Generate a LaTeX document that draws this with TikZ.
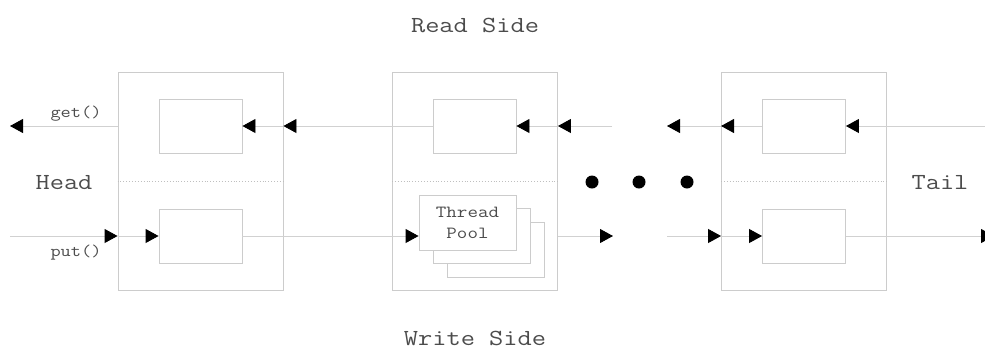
\documentclass[tikz,border=0pt]{standalone}
\usepackage{fontspec}
\newfontfamily\cour{Latin Modern Mono}[FakeStretch=1.2]
\usetikzlibrary{arrows.meta}
\begin{document}
\begin{tikzpicture}[x=1pt,y=-1pt,
  box/.style={draw=black!20, line width=0.9pt, inner sep=0pt, fill=white},
  outer/.style={box, minimum width=165pt, minimum height=218pt},
  inner/.style={box, minimum width=83pt, minimum height=54pt},
  pool/.style={box, minimum width=97pt, minimum height=55pt, align=center, font=\cour\fontsize{17}{21.5}\selectfont, text=black!70},
  wire/.style={draw=black!18, line width=0.9pt},
  flow/.style={wire, -{Triangle[color=black,length=13pt,width=14pt]}},
  big/.style={font=\cour\fontsize{23}{28}\selectfont, text=black!70, inner sep=0pt},
  small/.style={font=\cour\fontsize{16.5}{20}\selectfont, text=black!70, inner sep=0pt},
  dot/.style={circle, fill=black, minimum size=13pt, inner sep=0pt},
  sep/.style={draw=black!25, dotted, line width=0.9pt}
]
\useasboundingbox (0,0) rectangle (985,349);

% modules
\node[outer] (m1) at (200.5,181) {};
\node[inner] (m1t) at (200.5,126) {};
\node[inner] (m1b) at (200.5,236) {};
\node[outer] (m2) at (475,181) {};
\node[inner] (m2t) at (474.5,126) {};
\node[pool] (p3) at (495.5,250) {};
\node[pool] (p2) at (481.5,236) {};
\node[pool] (p1) at (467.5,223) {Thread\\Pool};
\node[outer] (m3) at (804,181) {};
\node[inner] (m3t) at (804,126) {};
\node[inner] (m3b) at (804,236) {};

% separators
\draw[sep] (m1.west) -- (m1.east);
\draw[sep] (m2.west) -- (m2.east);
\draw[sep] (m3.west) -- (m3.east);

% free ends
\coordinate (getend) at (10,126);
\coordinate (putstart) at (10,236);
\coordinate (g1) at (612,126);
\coordinate (g2) at (667,126);
\coordinate (r1) at (613,236);
\coordinate (r2) at (667,236);
\coordinate (rin) at (985,126);
\coordinate (rout) at (994,236);

% read side (right to left)
\draw[flow] (m1t -| m1.west) -- (getend);
\draw[flow] (m1t -| m1.east) -- (m1t.east);
\draw[flow] (m2t.west) -- (m2t -| m1.east);
\draw[flow] (m2t -| m2.east) -- (m2t.east);
\draw[flow] (g1) -- (m2t -| m2.east);
\draw[flow] (m3t -| m3.west) -- (g2);
\draw[flow] (m3t.west) -- (m3t -| m3.west);
\draw[flow] (rin) -- (m3t.east);

% write side (left to right)
\draw[flow] (putstart) -- (m1b -| m1.west);
\draw[flow] (m1b -| m1.west) -- (m1b.west);
\draw[flow] (m1b.east) -- (m1b -| p1.west);
\draw[flow] (m1b -| m2.east) -- (r1);
\draw[flow] (r2) -- (m3b -| m3.west);
\draw[flow] (m3b -| m3.west) -- (m3b.west);
\draw[flow] (m3b.east) -- (rout);

% ellipsis dots
\node[dot] (d1) at (592,182) {};
\node[dot] (d2) at (639,182) {};
\node[dot] (d3) at (687,182) {};

% labels
\node[big] (rs) at (475,25) {Read Side};
\node[big] (ws) at (475,338) {Write Side};
\node[big] (head) at (64,183) {Head};
\node[big] (tail) at (940,183) {Tail};
\node[small] (get) at (76,114) {get()};
\node[small] (put) at (76,253) {put()};
\end{tikzpicture}
\end{document}
